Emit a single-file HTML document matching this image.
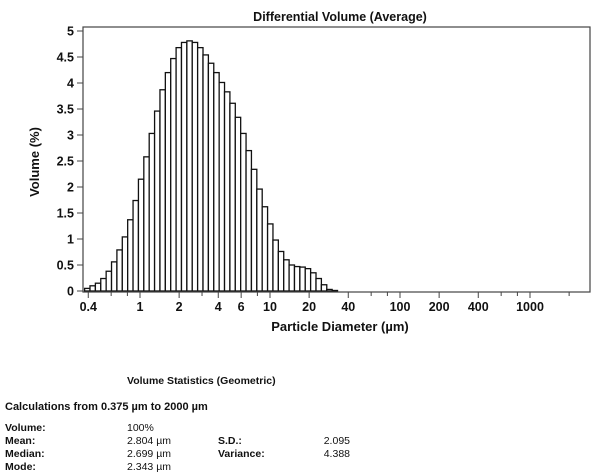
<!DOCTYPE html>
<html><head><meta charset="utf-8"><style>
body{margin:0;background:#fff;width:600px;height:464px;overflow:hidden;font-family:"Liberation Sans",Arial,sans-serif;}
svg text{font-family:"Liberation Sans",Arial,sans-serif;fill:#111;}
.st{position:absolute;font-size:10.5px;color:#111;white-space:nowrap;}
</style></head><body>
<svg width="600" height="464" style="position:absolute;left:0;top:0">
<text x="340" y="21" text-anchor="middle" font-size="12.5" font-weight="bold">Differential Volume (Average)</text>
<text transform="translate(39,162) rotate(-90)" text-anchor="middle" font-size="13" font-weight="bold">Volume (%)</text>
<text x="340" y="331" text-anchor="middle" font-size="13" font-weight="bold">Particle Diameter (µm)</text>
<g id="bars"></g>
<g id="axes"></g>
</svg>
<div class="st" style="left:127px;top:375px;font-weight:bold">Volume Statistics (Geometric)</div>
<div class="st" style="left:5px;top:401px;font-size:11px;font-weight:bold">Calculations from 0.375 µm to 2000 µm</div>
<div class="st" style="left:5px;top:422px;font-weight:bold">Volume:</div>
<div class="st" style="left:127px;top:422px">100%</div>
<div class="st" style="left:5px;top:435px;font-weight:bold">Mean:</div>
<div class="st" style="left:127px;top:435px">2.804 µm</div>
<div class="st" style="left:218px;top:435px;font-weight:bold">S.D.:</div>
<div class="st" style="left:300px;width:50px;text-align:right;top:435px">2.095</div>
<div class="st" style="left:5px;top:448px;font-weight:bold">Median:</div>
<div class="st" style="left:127px;top:448px">2.699 µm</div>
<div class="st" style="left:218px;top:448px;font-weight:bold">Variance:</div>
<div class="st" style="left:300px;width:50px;text-align:right;top:448px">4.388</div>
<div class="st" style="left:5px;top:461px;font-weight:bold">Mode:</div>
<div class="st" style="left:127px;top:461px">2.343 µm</div>
<script>
const binStart = 0.375;
const binRatio = 1.1;
const volumes = [0.05,0.1,0.15,0.24,0.38,0.56,0.79,1.04,1.37,1.74,2.15,2.58,3.03,3.46,3.87,4.2,4.47,4.68,4.78,4.81,4.78,4.68,4.54,4.38,4.2,4.01,3.83,3.61,3.34,3.03,2.7,2.34,1.96,1.62,1.29,0.98,0.76,0.6,0.5,0.47,0.46,0.43,0.35,0.24,0.12,0.03,0.01];
const yTicks = [0,0.5,1,1.5,2,2.5,3,3.5,4,4.5,5];
const xTickLabels = [0.4,1,2,4,6,10,20,40,100,200,400,1000];
const xMinorTicks = [0.6,0.8,3,8,60,80,600,800,2000];
const NS='http://www.w3.org/2000/svg';
const X0=83,X1=590,Y0=291,Y1=31,TOP=27;
function xs(d){return 140+130*Math.log10(d);}
function ys(v){return Y0-(Y0-Y1)*v/5;}
function mk(tag,attrs,parent){const e=document.createElementNS(NS,tag);for(const k in attrs)e.setAttribute(k,attrs[k]);parent.appendChild(e);return e;}
const bars=document.getElementById('bars'),axes=document.getElementById('axes');
volumes.forEach((v,i)=>{
  const a=binStart*Math.pow(binRatio,i),b=a*binRatio;
  const r=mk('rect',{x:xs(a),y:ys(v),width:xs(b)-xs(a),height:Y0-ys(v),fill:'#fff',stroke:'#111','stroke-width':1.3},bars);
  
  
});
const frame=mk('rect',{x:X0,y:TOP,width:X1-X0,height:Y0+1-TOP,fill:'none',stroke:'#444','stroke-width':1.2},axes);


yTicks.forEach(t=>{
  const y=ys(t);
  mk('line',{x1:X0-6,x2:X0,y1:y,y2:y,stroke:'#444'},axes);
  const tx=mk('text',{x:X0-9,y:y+4.5,'text-anchor':'end','font-size':12.5,'font-weight':'bold'},axes);
  tx.textContent=t;
  
  
});
xTickLabels.forEach(t=>{
  const x=xs(t);
  mk('line',{x1:x,x2:x,y1:Y0+1,y2:Y0+7,stroke:'#444'},axes);
  const tx=mk('text',{x:x,y:Y0+20,'text-anchor':'middle','font-size':12.5,'font-weight':'bold'},axes);
  tx.textContent=t;
  
  
});
xMinorTicks.forEach(t=>{
  const x=xs(t);
  mk('line',{x1:x,x2:x,y1:Y0+1,y2:Y0+5,stroke:'#444'},axes);
});
</script>
</body></html>
